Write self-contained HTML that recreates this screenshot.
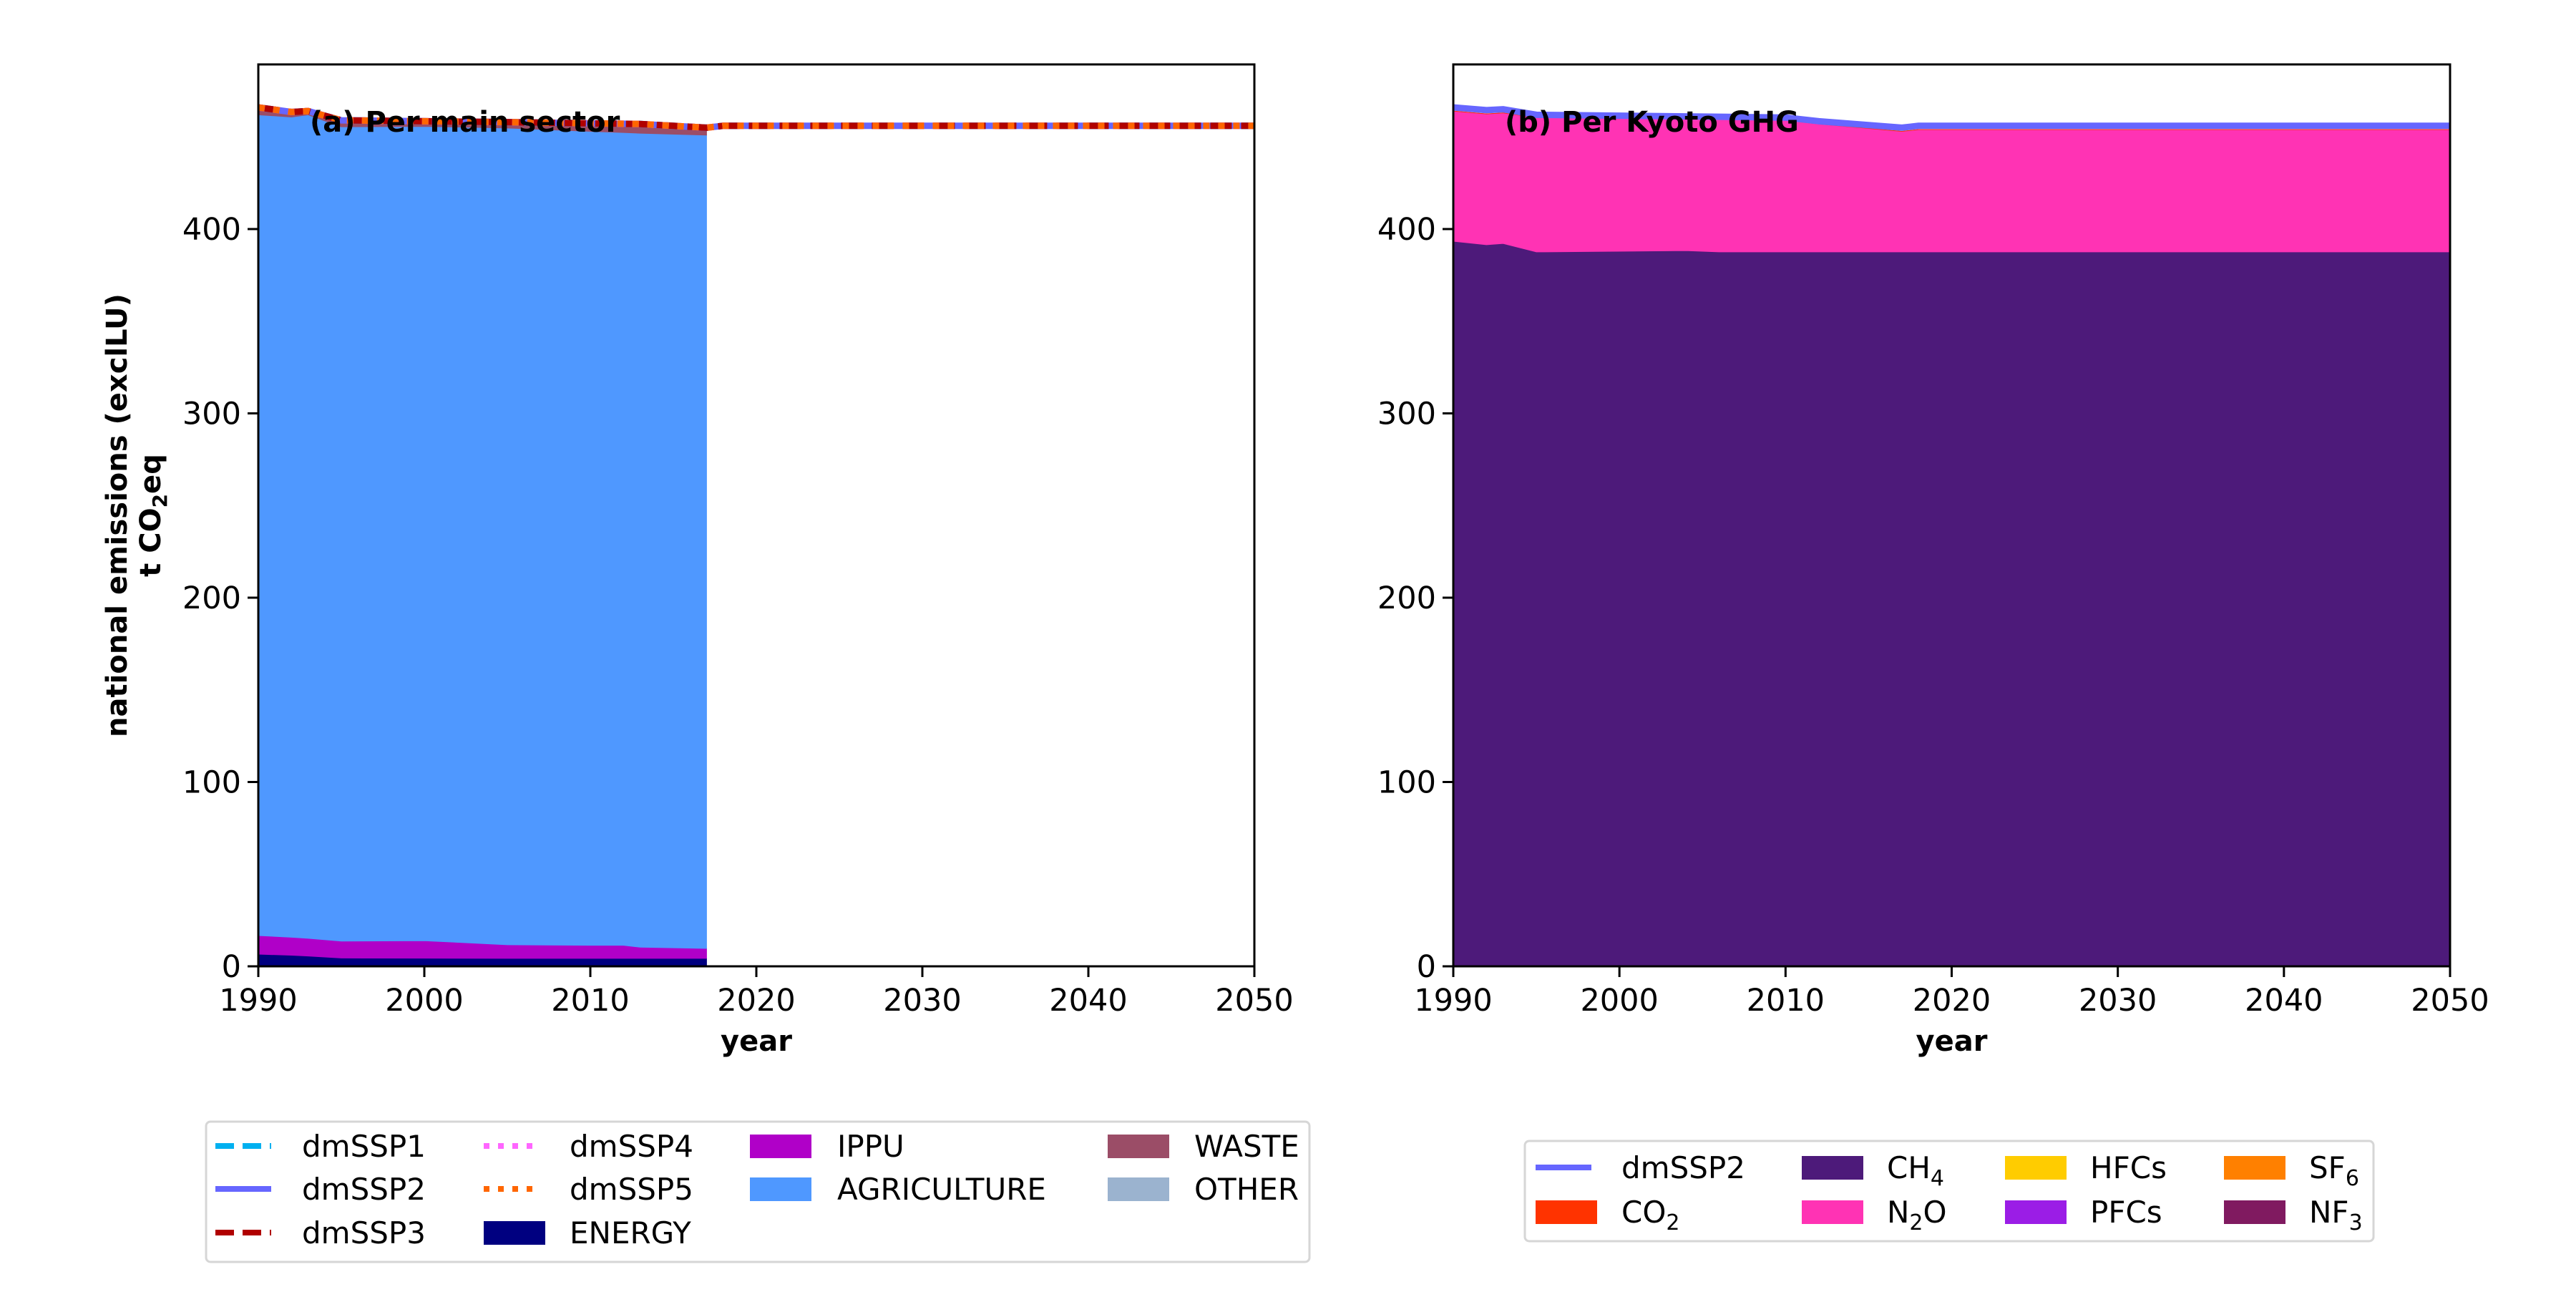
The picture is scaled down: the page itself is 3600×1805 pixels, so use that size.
<!DOCTYPE html>
<html><head><meta charset="utf-8"><style>
html,body{margin:0;padding:0;background:#fff}
svg text{font-family:"DejaVu Sans","Liberation Sans",sans-serif}
</style></head><body>
<svg id="fig" xmlns="http://www.w3.org/2000/svg" width="3600" height="1800" viewBox="0 0 3600 1800">
<rect width="3600" height="1800" fill="#fff"/>
<g id="panelA"></g>
<g id="panelB"></g>
<g id="ylab">
<text transform="translate(177,720) rotate(-90)" text-anchor="middle" font-size="40" font-weight="bold">national emissions (exclLU)</text>
<text transform="translate(224,720) rotate(-90)" text-anchor="middle" font-size="40" font-weight="bold">t CO<tspan font-size="28" dy="9">2</tspan><tspan dy="-9">eq</tspan></text>
</g>
<g id="legA"></g>
<g id="legB"></g>
</svg>
<script>
// ---- data ----
const xTicks = [1990, 2000, 2010, 2020, 2030, 2040, 2050];
const yTicks = [0, 100, 200, 300, 400];
const secYears = [1990, 1992, 1993, 1995, 2000, 2005, 2010, 2012, 2013, 2017];
const energy = [6.6, 6.0, 5.6, 4.5, 4.4, 4.3, 4.3, 4.3, 4.3, 4.3];
const ippu = [10.1, 9.8, 9.6, 9.2, 9.5, 7.4, 7.1, 7.1, 6.1, 5.4];
const agriculture = [445.3, 445.0, 446.8, 441.8, 441.8, 443.1, 441.6, 441.0, 441.6, 441.3];
const waste = [3.5, 3.5, 3.5, 3.5, 3.5, 3.5, 3.5, 3.5, 3.5, 3.5];
const other = [0, 0, 0, 0, 0, 0, 0, 0, 0, 0];
const lineYears = [1990, 1992, 1993, 1995, 2005, 2013, 2017, 2018, 2050];
const ssp1 = [466, 463.5, 464, 459, 458, 457, 455, 456, 456];
const ssp2 = [466, 463.5, 464, 459, 458, 457, 455, 456, 456];
const ssp3 = [466, 463.5, 464, 459, 458, 457, 455, 456, 456];
const ssp4 = [466, 463.5, 464, 459, 458, 457, 455, 456, 456];
const ssp5 = [466, 463.5, 464, 459, 458, 457, 455, 456, 456];
const gasYears = [1990, 1992, 1993, 1995, 2004, 2006, 2010, 2012, 2017, 2018, 2050];
const ch4 = [393.4, 391.5, 392.2, 387.6, 388.3, 387.6, 387.6, 387.6, 387.6, 387.6, 387.6];
const n2o = [70.6, 71.0, 70.8, 72.9, 71.9, 72.2, 71.4, 69.4, 65.4, 66.4, 66.4];
const co2 = [0, 0, 0, 0, 0, 0, 0, 0, 0, 0, 0];
const gasLineYears = [1990, 1992, 1993, 1995, 2010, 2012, 2017, 2018, 2050];
const gasSsp2 = [466, 464.5, 465, 462, 460.5, 458.5, 455, 456, 456];

const NS = "http://www.w3.org/2000/svg";
function mk(tag, attrs, parent) {
  const e = document.createElementNS(NS, tag);
  for (const k in attrs) e.setAttribute(k, attrs[k]);
  if (parent) parent.appendChild(e);
  return e;
}
const Y0 = 1350, YT = 90, YMAX = (1350 - 90) / 2.575;
function yScale(v) { return Y0 - (v / YMAX) * (Y0 - YT); }
function makeX(x0, x1) { return y => x0 + (y - 1990) / 60 * (x1 - x0); }

function axes(g, x0, x1, xs, title) {
  xTicks.forEach(t => {
    const tk = mk("line", {x1: xs(t), x2: xs(t), y1: Y0, y2: Y0 + 15, stroke: "#000", "stroke-width": 3}, g);
    
    
    const tl = mk("text", {x: xs(t), y: 1412, "text-anchor": "middle", "font-size": 43}, g);
    
    
    tl.textContent = t;
  });
  yTicks.forEach(t => {
    const tk = mk("line", {x1: x0 - 15, x2: x0, y1: yScale(t), y2: yScale(t), stroke: "#000", "stroke-width": 3}, g);
    
    
    const tl = mk("text", {x: x0 - 24, y: yScale(t) + 15, "text-anchor": "end", "font-size": 43}, g);
    
    
    tl.textContent = t;
  });
  const fr = mk("rect", {x: x0, y: YT, width: x1 - x0, height: Y0 - YT, fill: "none", stroke: "#000", "stroke-width": 3}, g);
  
  
  const xl = mk("text", {x: (x0 + x1) / 2, y: 1468, "text-anchor": "middle", "font-size": 40, "font-weight": "bold"}, g);
  
  
  xl.textContent = "year";
  const tt = mk("text", {x: x0 + 72, y: 184, "font-size": 40, "font-weight": "bold"}, g);
  
  
  tt.textContent = title;
}

function stack(g, years, layers, colors, names, xs) {
  const base = years.map(() => 0);
  layers.forEach((arr, i) => {
    const top = base.map((b, j) => b + arr[j]);
    let d = "M" + years.map((y, j) => xs(y) + "," + yScale(top[j])).join("L");
    for (let j = years.length - 1; j >= 0; j--) d += "L" + xs(years[j]) + "," + yScale(base[j]);
    d += "Z";
    const p = mk("path", {d: d, fill: colors[i], stroke: colors[i], "stroke-width": 1}, g);
    
    
    top.forEach((v, j) => base[j] = v);
  });
}
function line(g, years, vals, color, dash, name, xs) {
  const pts = years.map((y, j) => xs(y) + "," + yScale(vals[j])).join(" ");
  const a = {points: pts, fill: "none", stroke: color, "stroke-width": 9};
  if (dash) a["stroke-dasharray"] = dash;
  const l = mk("polyline", a, g);
  
  
}

const gA = document.getElementById("panelA");
const xa = makeX(361, 1753);
stack(gA, secYears, [energy, ippu, agriculture, waste, other],
  ["#000080", "#b000c8", "#4f98ff", "#9b4d67", "#9bb3cf"],
  ["area-energy", "area-ippu", "area-agriculture", "area-waste", "area-other"], xa);
line(gA, lineYears, ssp1, "#00b0f0", "30,13", "line-dmssp1", xa);
line(gA, lineYears, ssp2, "#6666ff", null, "line-dmssp2", xa);
line(gA, lineYears, ssp3, "#b00000", "30,13", "line-dmssp3", xa);
line(gA, lineYears, ssp4, "#ff66ff", "9,12", "line-dmssp4", xa);
line(gA, lineYears, ssp5, "#ff6600", "9,12", "line-dmssp5", xa);
axes(gA, 361, 1753, xa, "(a) Per main sector");

const gB = document.getElementById("panelB");
const xb = makeX(2031, 3424);
stack(gB, gasYears, [ch4, n2o, co2], ["#4d1a7a", "#ff33b4", "#ff3300"], ["area-ch4", "area-n2o", "area-co2"], xb);
line(gB, gasLineYears, gasSsp2, "#6666ff", null, "line-dmssp2", xb);
axes(gB, 2031, 3424, xb, "(b) Per Kyoto GHG");

function legendBox(g, x, y, w, h) {
  const r = mk("rect", {x: x, y: y, width: w, height: h, rx: 6, fill: "#fff", stroke: "#d6d6d6", "stroke-width": 3}, g);
  
  
}
function entry(g, hx, tx, cy, kind, color, dash, label, sub, after) {
  const e = mk("g", {}, g);
  
  
  if (kind === "line") {
    const a = {x1: hx, x2: hx + 78, y1: cy, y2: cy, stroke: color, "stroke-width": 8};
    if (dash) a["stroke-dasharray"] = dash;
    mk("line", a, e);
  } else {
    mk("rect", {x: hx, y: cy - 16, width: 86, height: 33, fill: color}, e);
  }
  const t = mk("text", {x: tx, y: cy + 15, "font-size": 42}, e);
  t.textContent = label;
  if (sub) {
    const s = mk("tspan", {"font-size": 30, dy: 10}, t); s.textContent = sub;
    if (after) { const s2 = mk("tspan", {dy: -10, "font-size": 42}, t); s2.textContent = after; }
  }
}
const lA = document.getElementById("legA");
legendBox(lA, 288, 1567, 1542, 196);
const rA = [1601, 1661, 1722];
entry(lA, 301, 422, rA[0], "line", "#00b0f0", "26,12", "dmSSP1");
entry(lA, 301, 422, rA[1], "line", "#6666ff", null, "dmSSP2");
entry(lA, 301, 422, rA[2], "line", "#b00000", "26,12", "dmSSP3");
entry(lA, 676, 796, rA[0], "line", "#ff66ff", "8,12", "dmSSP4");
entry(lA, 676, 796, rA[1], "line", "#ff6600", "8,12", "dmSSP5");
entry(lA, 676, 796, rA[2], "rect", "#000080", null, "ENERGY");
entry(lA, 1048, 1170, rA[0], "rect", "#b000c8", null, "IPPU");
entry(lA, 1048, 1170, rA[1], "rect", "#4f98ff", null, "AGRICULTURE");
entry(lA, 1548, 1669, rA[0], "rect", "#9b4d67", null, "WASTE");
entry(lA, 1548, 1669, rA[1], "rect", "#9bb3cf", null, "OTHER");

const lB = document.getElementById("legB");
legendBox(lB, 2131, 1594, 1186, 140);
const rB = [1631, 1693];
entry(lB, 2146, 2266, rB[0], "line", "#6666ff", null, "dmSSP2");
entry(lB, 2146, 2266, rB[1], "rect", "#ff3300", null, "CO", "2");
entry(lB, 2518, 2637, rB[0], "rect", "#4d1a7a", null, "CH", "4");
entry(lB, 2518, 2637, rB[1], "rect", "#ff33b4", null, "N", "2", "O");
entry(lB, 2802, 2921, rB[0], "rect", "#ffcc00", null, "HFCs");
entry(lB, 2802, 2921, rB[1], "rect", "#9b1de6", null, "PFCs");
entry(lB, 3108, 3227, rB[0], "rect", "#ff8000", null, "SF", "6");
entry(lB, 3108, 3227, rB[1], "rect", "#801a60", null, "NF", "3");
</script>
</body></html>
